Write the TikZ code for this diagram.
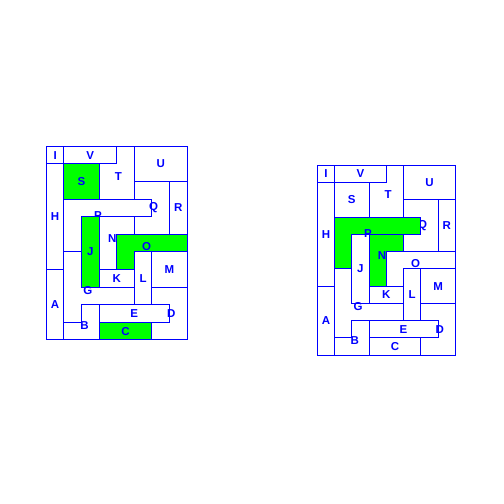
\documentclass[tikz,border=0pt]{standalone}
\usepackage{fontspec}
\setmainfont{Liberation Sans}
\tikzset{
  piece/.style={draw=blue, line width=1pt, line join=miter},
  hi/.style={fill=green},
  lbl/.style={text=blue, font=\fontsize{11.5}{12}\selectfont\bfseries, inner sep=0pt, outer sep=0pt},
}
\newcommand\pc[4]{%
  \draw[piece, pc#2/.try] #3;
  \node[lbl] (#1#2) at #4 {#2};
}
\newcommand\allpieces[1]{%
  \pc{#1}{I}{(0,0) rectangle (1,1)}{(0.5,0.5)}
  \pc{#1}{V}{(1,0) rectangle (4,1)}{(2.5,0.5)}
  \pc{#1}{T}{(4,0) -- (5,0) -- (5,3) -- (3,3) -- (3,1) -- (4,1) -- cycle}{(4.1,1.7)}
  \pc{#1}{U}{(5,0) rectangle (8,2)}{(6.5,1)}
  \pc{#1}{H}{(0,1) rectangle (1,7)}{(0.5,4)}
  \pc{#1}{S}{(1,1) rectangle (3,3)}{(2,2)}
  \pc{#1}{Q}{(5,2) -- (7,2) -- (7,5) -- (5,5) -- (5,4) -- (6,4) -- (6,3) -- (5,3) -- cycle}{(6.1,3.5)}
  \pc{#1}{R}{(7,2) rectangle (8,5)}{(7.5,3.5)}
  \pc{#1}{P}{(1,3) -- (6,3) -- (6,4) -- (2,4) -- (2,6) -- (1,6) -- cycle}{(2.93,3.93)}
  \pc{#1}{J}{(2,4) rectangle (3,8)}{(2.5,6)}
  \pc{#1}{N}{(3,4) -- (5,4) -- (5,5) -- (4,5) -- (4,7) -- (3,7) -- cycle}{(3.75,5.25)}
  \pc{#1}{O}{(4,5) -- (8,5) -- (8,6) -- (5,6) -- (5,7) -- (4,7) -- cycle}{(5.7,5.7)}
  \pc{#1}{L}{(5,6) rectangle (6,9)}{(5.5,7.5)}
  \pc{#1}{M}{(6,6) rectangle (8,8)}{(7,7)}
  \pc{#1}{K}{(3,7) rectangle (5,8)}{(4,7.5)}
  \pc{#1}{G}{(1,6) -- (2,6) -- (2,8) -- (5,8) -- (5,9) -- (2,9) -- (2,10) -- (1,10) -- cycle}{(2.36,8.21)}
  \pc{#1}{A}{(0,7) rectangle (1,11)}{(0.5,9)}
  \pc{#1}{E}{(3,9) rectangle (7,10)}{(5,9.5)}
  \pc{#1}{D}{(6,8) -- (8,8) -- (8,11) -- (6,11) -- (6,10) -- (7,10) -- (7,9) -- (6,9) -- cycle}{(7.1,9.5)}
  \pc{#1}{B}{(2,9) -- (3,9) -- (3,11) -- (1,11) -- (1,10) -- (2,10) -- cycle}{(2.17,10.17)}
  \pc{#1}{C}{(3,10) rectangle (6,11)}{(4.5,10.5)}
}
\begin{document}
\begin{tikzpicture}
  \fill[white] (0,0) rectangle (504pt,-504pt);
  \useasboundingbox (0,0) rectangle (504pt,-504pt);
  \begin{scope}[shift={(46.3pt,-146.3pt)}, x=17.6pt, y=-17.6pt,
      pcS/.style={hi}, pcJ/.style={hi}, pcO/.style={hi}, pcC/.style={hi}]
    \allpieces{l}
  \end{scope}
  \begin{scope}[shift={(317.3pt,-165.3pt)}, x=17.25pt, y=-17.25pt,
      pcP/.style={hi}, pcN/.style={hi}]
    \allpieces{r}
  \end{scope}
\end{tikzpicture}
\end{document}
